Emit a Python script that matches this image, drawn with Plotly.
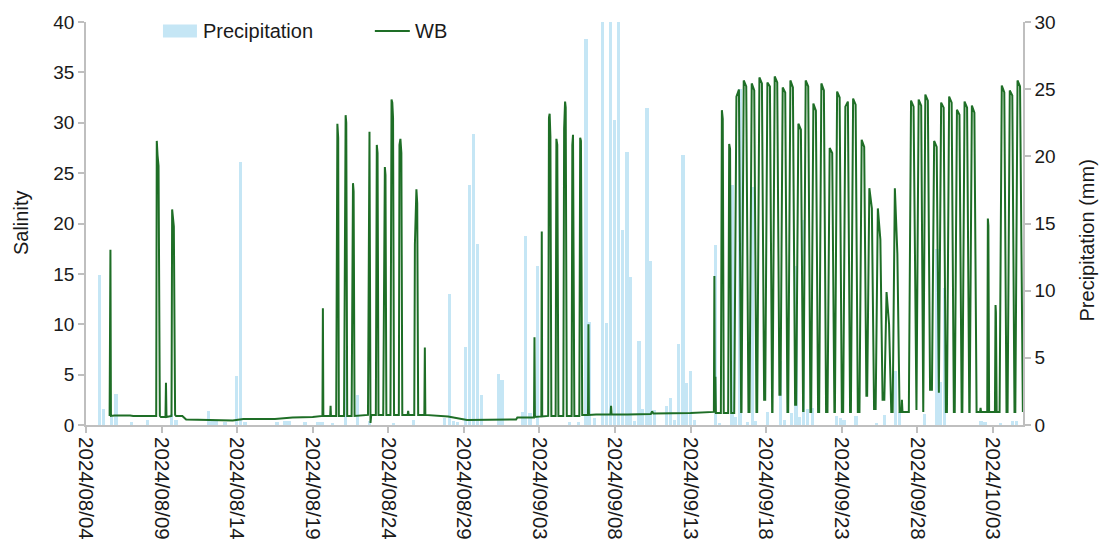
import pandas as pd
import plotly.graph_objects as go

START = pd.Timestamp("2024-08-04 00:00")
END = pd.Timestamp("2024-10-05 00:00")

# Precipitation (mm): bar centres in hours after 2024-08-04 00:00, and depth
precip_hours = [
    21.7, 28.1, 40.2, 47.5, 72.5, 97.9, 136.0, 142.9, 194.1, 200.0,
    206.3, 220.6, 238.6, 245.5, 252.4, 303.2, 315.9, 322.2, 347.6, 368.3,
    374.6, 392.0, 411.9, 430.6, 450.0, 487.8, 520.2, 569.8, 577.0, 584.1,
    590.5, 603.2, 609.5, 615.9, 621.8, 628.1, 654.8, 660.6, 693.2, 698.4,
    705.2, 717.4, 768.2, 782.0, 794.1, 800.0, 807.1, 820.6, 826.5, 832.8,
    839.2, 845.5, 851.9, 859.2, 864.6, 871.4, 878.2, 883.0, 890.9, 896.8,
    902.7, 922.2, 928.1, 934.9, 941.3, 948.1, 953.9, 960.3, 966.7, 999.5,
    1005.6, 1025.9, 1031.7, 1038.6, 1050.3, 1058.4, 1062.7, 1082.5, 1103.2, 1109.0,
    1120.6, 1127.4, 1133.3, 1139.4, 1146.0, 1153.2, 1192.1, 1198.4, 1203.7, 1222.7,
    1255.1, 1267.5, 1285.7, 1292.0, 1331.4, 1351.6, 1357.5, 1363.0, 1421.1, 1427.8,
    1452.4, 1471.4, 1477.8,
]
precip_mm = [
    11.2, 1.2, 0.6, 2.3, 0.25, 0.37, 0.8, 0.35, 1.05, 0.45,
    0.35, 0.2, 3.65, 19.6, 0.25, 0.2, 0.3, 0.3, 0.2, 0.2,
    0.25, 0.15, 5.6, 2.2, 0.3, 0.15, 0.37, 0.5, 9.75, 0.3,
    0.25, 5.8, 17.9, 21.65, 13.5, 2.2, 3.8, 3.35, 1.0, 14.1,
    0.9, 11.8, 0.25, 0.2, 28.7, 7.7, 0.5, 36.0, 7.6, 40.5,
    22.7, 33.5, 14.5, 20.3, 11.0, 0.3, 6.25, 1.2, 23.6, 12.2,
    1.1, 1.4, 2.0, 0.35, 6.0, 20.1, 3.1, 4.0, 0.35, 13.4,
    0.15, 17.9, 0.6, 25.0, 0.25, 17.7, 0.3, 1.0, 4.8, 0.4,
    0.9, 11.8, 0.6, 15.25, 1.2, 1.3, 0.7, 0.55, 0.4, 0.7,
    0.1, 0.75, 4.0, 1.0, 0.8, 13.1, 3.2, 10.2, 0.3, 0.25,
    0.15, 0.3, 0.3,
]

# WB salinity record: (hours after 2024-08-04 00:00, salinity)
wb_points = [
    (37.5, 0.9), (38.2, 15.0), (38.8, 17.4), (39.6, 0.9),
    (45.0, 0.95), (70.0, 0.95), (75.0, 0.9),
    (111.5, 0.9), (112.4, 28.2), (113.6, 26.8), (115.2, 25.7), (117.3, 0.9),
    (119.0, 0.8), (126.2, 0.8), (127.0, 4.2), (127.8, 0.8),
    (135.8, 0.9), (136.8, 21.4), (138.0, 20.8), (139.5, 19.7), (141.5, 1.0), (143.0, 0.9),
    (153.0, 0.9), (159.0, 0.55), (233.0, 0.45), (250.0, 0.6), (300.0, 0.6),
    (328.0, 0.75), (360.0, 0.8), (370.0, 0.9),
    (375.5, 0.9), (376.2, 11.6), (376.9, 0.9),
    (387.8, 0.9), (388.4, 1.9), (389.0, 0.9),
    (397.3, 0.9), (398.2, 29.6), (399.2, 29.9), (400.5, 28.5), (401.5, 0.9),
    (409.8, 0.9), (411.2, 30.2), (412.3, 30.75), (413.3, 30.0), (414.8, 0.9),
    (421.8, 0.9), (422.8, 21.0), (424.0, 24.0), (425.0, 23.2), (426.5, 0.9),
    (447.8, 1.0), (449.2, 28.5), (450.2, 29.1), (451.8, 0.2), (453.0, 1.0),
    (460.3, 1.0), (461.8, 27.8), (463.0, 27.0), (464.5, 1.0),
    (472.0, 1.0), (473.6, 25.0), (474.6, 25.6), (475.6, 24.8), (477.0, 1.0),
    (483.5, 1.0), (485.2, 32.3), (486.4, 32.0), (487.6, 30.5), (489.2, 1.0),
    (496.8, 1.0), (497.8, 27.8), (499.3, 28.4), (500.8, 27.0), (502.3, 1.0),
    (510.8, 1.0), (511.6, 1.4), (512.4, 1.0),
    (521.3, 1.0), (522.3, 17.9), (523.5, 22.8), (524.7, 23.4), (526.0, 22.0), (527.5, 1.0),
    (537.3, 1.0), (538.1, 7.7), (538.9, 1.0),
    (575.0, 0.85), (605.0, 0.5), (683.0, 0.55), (685.0, 0.75),
    (711.5, 0.75), (712.2, 8.7), (712.9, 0.8),
    (723.1, 0.85), (723.8, 19.2), (724.5, 0.85),
    (734.0, 0.9), (735.2, 30.5), (736.3, 30.9), (737.5, 28.6), (739.0, 0.9),
    (745.8, 0.9), (747.0, 28.4), (748.4, 27.8), (750.2, 0.9),
    (758.0, 0.9), (759.3, 29.4), (760.8, 32.1), (761.8, 31.5), (763.5, 0.9),
    (771.2, 0.9), (772.3, 27.8), (773.4, 28.8), (775.5, 0.9),
    (783.4, 0.9), (784.8, 28.5), (786.0, 28.2), (788.0, 1.0),
    (797.2, 1.0), (797.9, 10.0), (798.6, 1.0),
    (810.0, 1.05), (833.0, 1.05), (833.8, 1.9), (834.6, 1.05),
    (860.0, 1.05), (897.0, 1.1), (899.0, 1.35), (901.0, 1.15), (960.0, 1.2), (992.0, 1.3),
    (997.1, 1.3), (997.9, 14.8), (998.6, 1.5), (999.5, 4.8), (1000.3, 1.2),
    (1008.2, 1.2), (1009.8, 31.25), (1011.2, 30.4), (1012.8, 1.2),
    (1019.8, 1.2), (1021.4, 27.9), (1022.8, 27.4), (1024.6, 1.2),
    (1029.4, 1.2), (1032.9, 32.6), (1036.9, 33.3), (1040.4, 1.3),
    (1041.0, 1.3), (1044.5, 34.2), (1048.5, 33.6), (1052.0, 1.3),
    (1053.7, 1.3), (1057.2, 33.9), (1061.2, 33.2), (1064.7, 1.3),
    (1065.9, 1.3), (1069.4, 34.5), (1073.4, 33.9), (1076.9, 2.5),
    (1078.6, 2.5), (1082.1, 34.0), (1086.1, 33.6), (1089.6, 1.3),
    (1090.2, 1.3), (1093.7, 34.6), (1097.7, 34.0), (1101.2, 3.0),
    (1102.9, 3.0), (1106.4, 33.5), (1110.4, 33.0), (1113.9, 1.3),
    (1115.1, 1.3), (1118.6, 34.2), (1122.6, 33.5), (1126.1, 2.0),
    (1127.8, 2.0), (1131.3, 29.9), (1135.3, 29.3), (1138.8, 1.4),
    (1139.4, 1.4), (1142.9, 34.2), (1146.9, 33.6), (1150.4, 1.3),
    (1151.6, 1.3), (1155.1, 31.9), (1159.1, 31.2), (1162.6, 1.3),
    (1164.3, 1.3), (1167.8, 33.9), (1171.8, 33.2), (1175.3, 1.3),
    (1177.5, 1.3), (1181.0, 27.5), (1185.0, 27.0), (1188.5, 1.3),
    (1189.3, 1.3), (1192.8, 33.1), (1196.8, 32.5), (1200.3, 1.3),
    (1202.4, 1.3), (1205.9, 31.6), (1209.9, 32.1), (1213.4, 1.3),
    (1214.7, 1.3), (1218.2, 32.4), (1222.2, 31.8), (1225.7, 1.3),
    (1228.3, 1.3), (1231.8, 28.3), (1235.8, 27.6), (1239.3, 2.9),
    (1240.5, 2.9), (1244.0, 23.5), (1248.0, 21.5), (1251.5, 1.6),
    (1254.0, 1.6), (1257.5, 21.5), (1261.5, 18.4), (1265.0, 2.5),
    (1267.8, 2.5), (1271.3, 13.2), (1275.3, 10.0), (1278.8, 1.3),
    (1281.0, 1.3), (1284.5, 23.5), (1288.5, 17.0), (1292.0, 1.3),
    (1294.8, 1.3), (1295.7, 2.5), (1296.6, 1.3),
    (1306.7, 1.3), (1310.2, 32.2), (1314.2, 31.6), (1317.7, 1.5),
    (1318.8, 1.5), (1322.3, 32.3), (1326.3, 31.7), (1329.6, 1.3),
    (1332.9, 32.8), (1336.9, 32.2), (1340.4, 3.5),
    (1343.4, 3.5), (1346.9, 28.2), (1350.9, 27.6), (1354.4, 3.2),
    (1358.0, 32.0), (1362.0, 31.5), (1365.5, 1.3),
    (1367.2, 1.3), (1370.7, 32.6), (1374.7, 32.0), (1378.2, 1.3),
    (1379.6, 1.3), (1383.1, 31.3), (1387.1, 30.8), (1390.6, 1.3),
    (1391.7, 1.3), (1395.2, 32.1), (1399.2, 31.5), (1402.7, 1.3),
    (1403.3, 1.3), (1406.8, 31.7), (1410.8, 31.0), (1414.3, 1.3),
    (1419.8, 1.3), (1420.6, 1.7), (1421.4, 1.3),
    (1431.2, 1.3), (1432.2, 20.5), (1433.0, 19.8), (1434.2, 1.3),
    (1443.4, 1.3), (1444.4, 11.9), (1445.0, 11.2), (1446.2, 1.3),
    (1450.8, 1.3), (1454.3, 33.7), (1458.3, 33.0), (1461.8, 1.3),
    (1463.5, 1.3), (1467.0, 33.2), (1471.0, 32.7), (1474.5, 1.3),
    (1475.8, 1.3), (1479.3, 34.2), (1483.3, 33.6), (1487.8, 1.3),
]

assert len(precip_hours) == len(precip_mm)

precip_time = START + pd.to_timedelta(precip_hours, unit="h")
wb_time = START + pd.to_timedelta([p[0] for p in wb_points], unit="h")
wb_salinity = [p[1] for p in wb_points]

BAR_COLOR = "#C5E6F5"
LINE_COLOR = "#1E6E26"
AXIS_COLOR = "#BFBFBF"
TEXT_COLOR = "#1A1A1A"
FONT = "Liberation Sans, Arial, sans-serif"

W, H = 1109, 543
M_L, M_R, M_T, M_B = 86, 85.5, 22, 118
PLOT_W = W - M_L - M_R
PLOT_H = H - M_T - M_B


def px_x(px):
    return (px - M_L) / PLOT_W


def px_y(py):
    return (H - M_B - py) / PLOT_H


fig = go.Figure()

# Precipitation bars sit on the base axis (drawn right), so the line overlays them
fig.add_trace(go.Bar(
    x=precip_time, y=precip_mm, yaxis="y",
    width=5.2 * 3600 * 1000,
    marker=dict(color=BAR_COLOR, line=dict(width=0)),
    name="Precipitation", showlegend=False,
))
fig.add_trace(go.Scatter(
    x=wb_time, y=wb_salinity, yaxis="y2", mode="lines",
    line=dict(color=LINE_COLOR, width=2),
    name="WB", showlegend=False,
))

ytick_font = dict(family=FONT, size=19, color=TEXT_COLOR)
xtick_font = dict(family=FONT, size=20.5, color=TEXT_COLOR)
title_font = dict(family=FONT, size=20, color=TEXT_COLOR)

fig.update_layout(
    width=W, height=H, autosize=False,
    margin=dict(l=M_L, r=M_R, t=M_T, b=M_B, pad=0),
    paper_bgcolor="white", plot_bgcolor="white",
    bargap=0,
    xaxis=dict(
        type="date", range=[START, END], automargin=False,
        tick0=START, dtick=5 * 86400000, tickformat="%Y/%m/%d",
        tickangle=90, tickfont=xtick_font,
        ticks="outside", ticklen=6, tickwidth=1.5, tickcolor=AXIS_COLOR,
        showline=True, linecolor=AXIS_COLOR, linewidth=2,
        showgrid=False, zeroline=False,
    ),
    yaxis=dict(
        side="right", range=[0, 30], dtick=5, tickfont=ytick_font, automargin=False,
        ticks="outside", ticklen=6, tickwidth=1.5, tickcolor=AXIS_COLOR,
        showline=True, linecolor=AXIS_COLOR, linewidth=1.5,
        showgrid=False, zeroline=False,
    ),
    yaxis2=dict(
        overlaying="y", side="left", range=[0, 40], dtick=5, tickfont=ytick_font,
        automargin=False,
        ticks="outside", ticklen=6, tickwidth=1.5, tickcolor=AXIS_COLOR,
        showline=True, linecolor=AXIS_COLOR, linewidth=1.5,
        showgrid=False, zeroline=False,
    ),
)

# Axis titles
fig.add_annotation(text="Salinity", xref="paper", yref="paper",
                   x=px_x(21), y=px_y(223), xanchor="center", yanchor="middle",
                   textangle=-90, showarrow=False, font=title_font)
fig.add_annotation(text="Precipitation (mm)", xref="paper", yref="paper",
                   x=px_x(1088), y=px_y(240), xanchor="center", yanchor="middle",
                   textangle=-90, showarrow=False, font=title_font)

# Legend drawn as shapes and text along the top of the plot
fig.add_shape(type="rect", xref="paper", yref="paper",
              x0=px_x(163), x1=px_x(197), y0=px_y(37.5), y1=px_y(24.5),
              fillcolor=BAR_COLOR, line=dict(width=0))
fig.add_shape(type="line", xref="paper", yref="paper",
              x0=px_x(375), x1=px_x(410), y0=px_y(31), y1=px_y(31),
              line=dict(color=LINE_COLOR, width=2))
fig.add_annotation(text="Precipitation", xref="paper", yref="paper",
                   x=px_x(201), y=px_y(31), xanchor="left", yanchor="middle",
                   showarrow=False, font=title_font)
fig.add_annotation(text="WB", xref="paper", yref="paper",
                   x=px_x(413), y=px_y(31), xanchor="left", yanchor="middle",
                   showarrow=False, font=title_font)

fig.write_html("out.html")
